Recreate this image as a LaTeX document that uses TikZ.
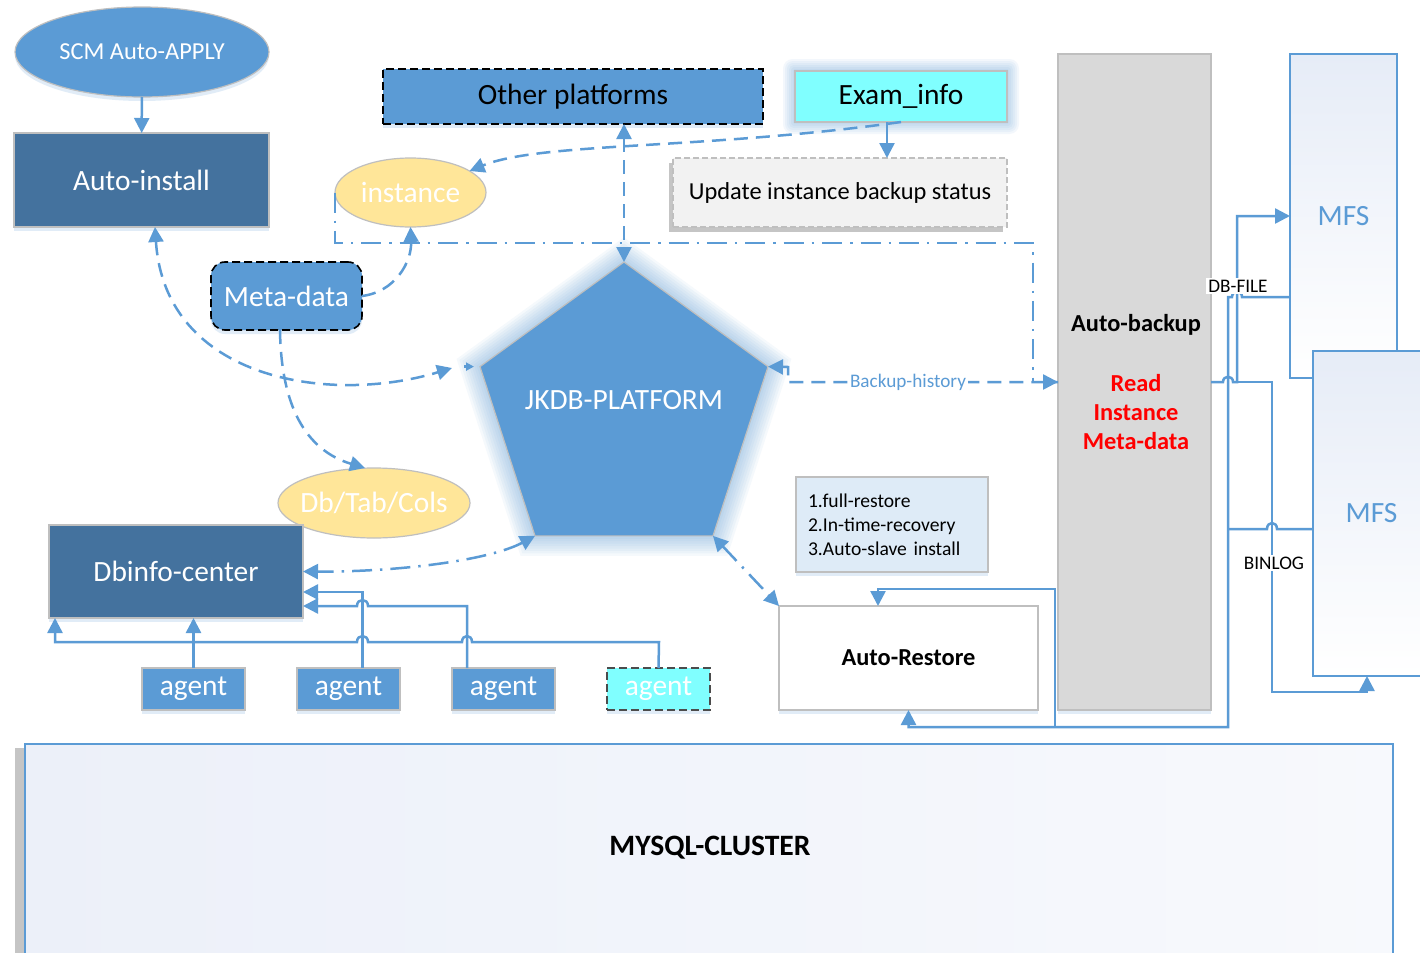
\documentclass[tikz,border=0pt]{standalone}
\usepackage{fontspec}
\setmainfont{Carlito}
\usetikzlibrary{arrows.meta,shapes.geometric,shadows}
\definecolor{mblue}{HTML}{5B9BD5}
\definecolor{dblue}{HTML}{44729E}
\definecolor{yel}{HTML}{FFE699}
\definecolor{cyn}{HTML}{80FFFF}
\definecolor{gbox}{HTML}{D9D9D9}
\definecolor{lgray}{HTML}{F2F2F2}
\definecolor{infob}{HTML}{DEEBF7}
\definecolor{bord}{HTML}{BFBFBF}
\definecolor{mfsc}{HTML}{E6ECF7}
\definecolor{myl}{HTML}{ECF0F9}
\definecolor{redt}{HTML}{FF0000}
\newcommand{\myfs}[1]{\fontsize{#1pt}{#1pt}\selectfont}
\begin{document}
\begin{tikzpicture}[x=0.5pt,y=-0.5pt,
  >={Triangle[length=7.5pt,width=7.5pt]},
  conn/.style={draw=mblue, line width=1.25pt},
  dsh/.style={dash pattern=on 7pt off 4pt},
  ddot/.style={dash pattern=on 10pt off 4pt on 1.2pt off 4pt},
  rbox/.style={rectangle, inner sep=2pt, outer sep=0pt, line width=0.6pt},
  ebox/.style={ellipse, inner sep=0pt, outer sep=0pt, line width=0.6pt},
  soft/.style={drop shadow={shadow xshift=0pt, shadow yshift=-2pt, opacity=0.18, fill=mblue}},
  big/.style={font=\myfs{14.7}},
  mid/.style={font=\myfs{12.2}},
  agentbox/.style={rbox, fill=mblue, draw=bord, minimum width=51.5pt, minimum height=21pt, text=white, big, soft},
  lab/.style={fill=white, inner sep=1pt, font=\myfs{9.6}},
]
\useasboundingbox (0,0) rectangle (1420,953);
\fill[white] (0,0) rectangle (1420,953);
\clip (0,0) rectangle (1420,953);

% ---------- MYSQL cluster ----------
\node[rectangle, outer sep=0pt, draw=mblue, line width=0.8pt, left color=myl, right color=myl!40!white,
      minimum width=684pt, minimum height=112pt,
      drop shadow={shadow xshift=-5pt, shadow yshift=-2pt, opacity=0.45}] (mysql) at (709,856) {};
\node[font=\bfseries\myfs{14.8}] (mtext) at (710,848) {MYSQL-CLUSTER};

% ---------- glows ----------
\foreach \d in {2,4,6,8,10,12}{
  \fill[mblue,opacity=0.07,rounded corners=\d*0.4pt] (795-\d,71-\d) rectangle (1007+\d,122+\d);
}
\foreach \s in {152,155,158,161,164,167,170,173,176}{
  \node[regular polygon, regular polygon sides=5, minimum size=\s pt, inner sep=0pt, fill=mblue, opacity=0.06] (glow\s) at (624,413.4) {};
}

% ---------- nodes ----------
\node[ebox, fill=mblue, draw=bord, minimum width=127pt, minimum height=45pt, text=white, mid, soft] (scm) at (142,52) {SCM Auto-APPLY};
\node[rbox, fill=dblue, draw=bord, minimum width=127.5pt, minimum height=47pt, text=white, big, soft] (ainst) at (141.5,180) {Auto-install};
\node[ebox, fill=yel, draw=bord, minimum width=75.5pt, minimum height=34.5pt, label={[text=white, big]center:instance}] (instance) at (410.5,192.5) {};
\node[rbox, fill=mblue, draw=black, line width=0.8pt, dash pattern=on 4pt off 2pt, minimum width=190pt, minimum height=27.5pt, big, soft] (other) at (573,96.5) {Other platforms};
\node[rbox, fill=cyn, draw=bord, minimum width=106pt, minimum height=25.5pt, big] (exam) at (901,96.5) {Exam\_info};
\node[rbox, fill=lgray, draw=bord, dash pattern=on 3pt off 1.5pt, minimum width=167pt, minimum height=34.5pt, mid,
      drop shadow={shadow xshift=-2pt, shadow yshift=-2.5pt, opacity=0.45}] (update) at (840,192.5) {Update instance backup status};
\node[rbox, rounded corners=7pt, fill=mblue, draw=black, line width=0.8pt, dash pattern=on 4pt off 2pt, minimum width=75.5pt, minimum height=34pt, text=white, big, soft] (meta) at (286.5,296) {Meta-data};

\node[regular polygon, regular polygon sides=5, minimum size=151.4pt, inner sep=0pt, outer sep=0pt, fill=mblue, draw=bord, line width=0.6pt] (pent) at (624,413.4) {};
\node[text=white, big] (ptitle) at (624,400) {JKDB-PLATFORM};

\node[ebox, fill=yel, draw=bord, minimum width=96pt, minimum height=35pt, label={[text=white, big]center:Db/Tab/Cols}] (dbtab) at (374,503) {};
\node[rbox, fill=dblue, draw=bord, minimum width=127pt, minimum height=46.5pt, text=white, big, soft] (dbinfo) at (176,571.5) {Dbinfo-center};

\node[agentbox] (a1) at (193.5,689) {agent};
\node[agentbox] (a2) at (348.5,689) {agent};
\node[agentbox] (a3) at (503.5,689) {agent};
\node[agentbox, fill=cyn, draw=black!70, line width=0.8pt, dash pattern=on 4pt off 2pt] (a4) at (658.5,689) {agent};

\node[rbox, fill=white, draw=bord, minimum width=129.5pt, minimum height=52pt, font=\bfseries\myfs{12.2}, soft] (restore) at (908.5,658) {Auto-Restore};
\node[rbox, fill=infob, draw=bord, inner sep=6pt, text width=84pt, minimum height=47.5pt, align=left, font=\fontsize{9.8pt}{12pt}\selectfont, soft] (info) at (892,524.5) {1.full-restore\\2.In-time-recovery\\3.Auto-slave install};

\node[rbox, fill=gbox, draw=bord, minimum width=76.5pt, minimum height=328pt, soft] (backup) at (1134.5,382) {};
\node[font=\bfseries\myfs{12.2}] (abtext) at (1136,325) {Auto-backup};
\node[font=\bfseries\fontsize{12.2pt}{14.5pt}\selectfont, text=redt, align=center] (readtxt) at (1136,412) {Read\\Instance\\Meta-data};

\node[rectangle, outer sep=0pt, draw=mblue, line width=0.8pt, top color=mfsc, bottom color=white, minimum width=53.5pt, minimum height=162pt, text=mblue, big] (mfs1) at (1343.5,216) {MFS};
\node[rectangle, outer sep=0pt, draw=mblue, line width=0.8pt, top color=mfsc, bottom color=white, minimum width=58.5pt, minimum height=162.5pt, text=mblue, big] (mfs2) at (1371.5,513.5) {MFS};

% ---------- named waypoints ----------
\coordinate (hl) at (335,243);
\coordinate (hr) at (1033,243);
\coordinate (bh1) at (788,367);
\coordinate (pl) at (452,368);

% ---------- connectors ----------
\draw[conn,->] (scm) -- (ainst);
\draw[conn,->] ([xshift=-7pt]exam.south) -- ([xshift=-7pt]exam.south |- update.north);
\draw[conn,dsh,->] (exam.south) .. controls (700,150) and (540,142) .. (instance.20);
\draw[conn,dsh,<->] (pent.corner 1 |- other.south) -- (pent.corner 1);
\draw[conn,ddot,->] (instance.west) -- (hl) -- (hr) -- (hr |- backup.west) -- (backup.west);
\draw[conn,dsh,<-] (pent.corner 5) -- (bh1) -- (bh1 |- backup.west) -- (backup.west);
\node[lab, text=mblue] (bhl) at (908,382) {Backup-history};

\draw[conn,dsh,<->] ([xshift=6.75pt]ainst.south) .. controls (165,380) and (330,405) .. (pl);
\draw[conn,->,>={Triangle[length=4pt,width=4pt]}] ([xshift=-8pt]pent.corner 2) -- ([xshift=-3pt]pent.corner 2);
\draw[conn,dsh,->] (meta.east) .. controls (395,292) and (412,262) .. (instance.south);
\draw[conn,dsh,->] ([xshift=-3.25pt]meta.south) .. controls (281,405) and (305,450) .. ([xshift=-4.5pt]dbtab.north);
\draw[conn,ddot,<->] (pent.corner 3) .. controls (490,560) and (400,572) .. (dbinfo.east);
\draw[conn,ddot,<->] (pent.corner 4) -- (restore.north west);

% agents
\draw[conn,->] (a1.north) -- (a1.north |- dbinfo.south);
\draw[conn,->] ([xshift=7pt]a2.north) |- ([yshift=-10.25pt]dbinfo.east);
\draw[conn,->] ([xshift=-18.25pt]a3.north) -- (467,606) -- (368,606) .. controls (368,598) and (357,598) .. (357,606) -- ([yshift=-17.25pt]dbinfo.east);
\draw[conn,->] (a4.north) -- (659,642) -- (472,642) .. controls (472,634) and (462,634) .. (462,642)
   -- (368,642) .. controls (368,634) and (357,634) .. (357,642) -- (55,642) -- ([xshift=3pt]dbinfo.south west);

% right side
\draw[conn,->] (backup.east) -- (1223,382) .. controls (1223,375) and (1233,375) .. (1233,382) -- (1237,382) -- (1237,216) -- (mfs1.west);
\draw[conn,->] (1237,382) -- (1272,382) -- (1272,692) -| ([xshift=-2.25pt]mfs2.south);
\draw[conn,->] ([yshift=-40.5pt]mfs1.west) -- (1242,297) .. controls (1242,290) and (1232,290) .. (1232,297) -- (1228,297) -- (1228,727) -| (restore.south);
\draw[conn] ([yshift=-7.75pt]mfs2.west) -- (1277,529) .. controls (1277,521) and (1267,521) .. (1267,529) -- (1228,529);
\draw[conn,->] (1055,727) -- (1055,589) -| ([xshift=-15.25pt]restore.north);
\node[lab] (dbf) at (1238,286) {DB-FILE};
\node[lab] (binl) at (1274,563) {BINLOG};
\end{tikzpicture}
\end{document}
